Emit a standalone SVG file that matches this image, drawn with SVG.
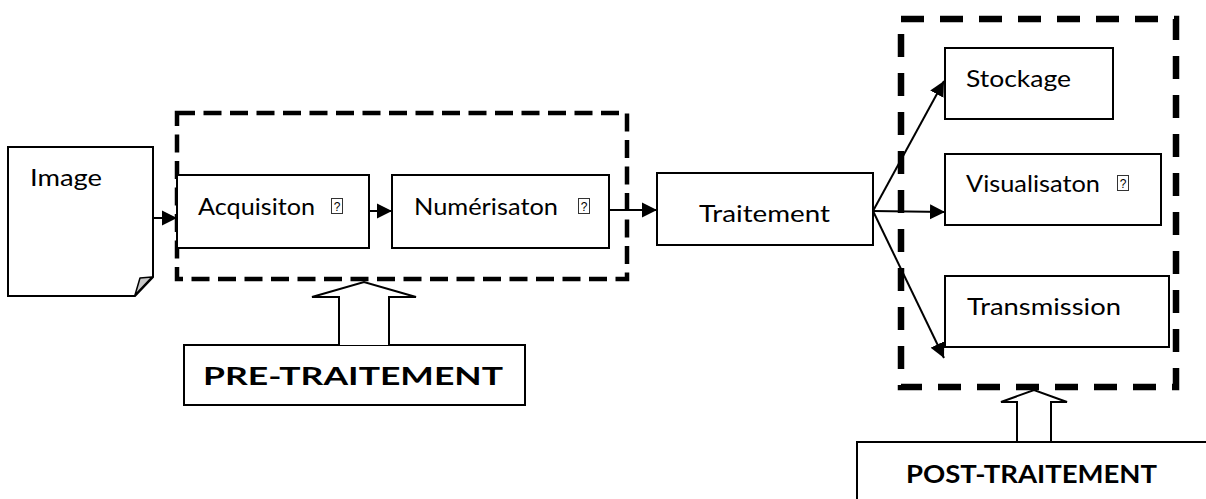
<svg xmlns="http://www.w3.org/2000/svg" width="1206" height="499" viewBox="0 0 1206 499">
<defs>
<style>
.box{fill:#fff;stroke:#000;stroke-width:2}
.t{font-family:Lato,"Open Sans","Liberation Sans",sans-serif;font-size:24px;fill:#000}
.b{font-family:Lato,"Open Sans","Liberation Sans",sans-serif;font-size:25px;font-weight:bold;fill:#000}
.gb{fill:#fff;stroke:#333;stroke-width:1}
.q{font-family:"Liberation Sans",sans-serif;font-size:12px;fill:#000;text-anchor:middle}
.ln{fill:none;stroke:#000;stroke-width:2}
.dash1{fill:none;stroke:#000;stroke-width:4.5;stroke-dasharray:18 8.5}
.dash2{fill:none;stroke:#000;stroke-width:6.5;stroke-dasharray:23 16}
.blk{fill:#fff;stroke:#000;stroke-width:2;stroke-linejoin:miter}
</style>
<marker id="ah" markerUnits="userSpaceOnUse" markerWidth="16" markerHeight="16" viewBox="0 0 16 16" refX="15" refY="8" orient="auto">
<path d="M0,0.5 L15,8 L0,15.5 Z" fill="#000"/>
</marker>
</defs>
<rect width="1206" height="499" fill="#fff"/>

<g id="pre-group">
<rect class="dash1" x="177" y="113" width="450" height="166"/>
</g>
<g id="post-group">
<rect class="dash2" x="901" y="19" width="275" height="368"/>
</g>

<g id="image">
<path class="box" d="M8,147 H153 V277 L135,296 H8 Z"/>
<path d="M140,278 L152,277 L135,295 Z" fill="#c8c8c8" stroke="#000" stroke-width="1.5" stroke-linejoin="round"/>
<text class="t" x="30" y="186" textLength="72" lengthAdjust="spacingAndGlyphs">Image</text>
</g>

<g id="acquisition">
<rect class="box" x="177" y="175" width="192" height="73"/>
<text class="t" x="198" y="215" textLength="117" lengthAdjust="spacingAndGlyphs">Acquisiton</text>
<rect class="gb" x="331.5" y="198.5" width="11" height="15"/>
<text class="q" x="337" y="211">?</text>
</g>

<g id="numerisation">
<rect class="box" x="392" y="175" width="217" height="73"/>
<text class="t" x="414" y="215" textLength="144" lengthAdjust="spacingAndGlyphs">Numérisaton</text>
<rect class="gb" x="578.5" y="198.5" width="11" height="15"/>
<text class="q" x="584" y="211">?</text>
</g>

<g id="traitement">
<rect class="box" x="657" y="173" width="216" height="72"/>
<text class="t" x="699" y="222" textLength="131" lengthAdjust="spacingAndGlyphs">Traitement</text>
</g>

<g id="stockage">
<rect class="box" x="945" y="48" width="168" height="71"/>
<text class="t" x="966" y="87" textLength="105" lengthAdjust="spacingAndGlyphs">Stockage</text>
</g>

<g id="visualisation">
<rect class="box" x="945" y="154" width="216" height="71"/>
<text class="t" x="966" y="192" textLength="134" lengthAdjust="spacingAndGlyphs">Visualisaton</text>
<rect class="gb" x="1117.5" y="175.5" width="11" height="15"/>
<text class="q" x="1123" y="188">?</text>
</g>

<g id="transmission">
<rect class="box" x="945" y="276" width="224" height="71"/>
<text class="t" x="967" y="315" textLength="154" lengthAdjust="spacingAndGlyphs">Transmission</text>
</g>

<g id="pre-traitement">
<rect class="box" x="184" y="345" width="341" height="60"/>
<text class="b" x="203" y="385" textLength="300" lengthAdjust="spacingAndGlyphs">PRE-TRAITEMENT</text>
</g>

<g id="post-traitement">
<rect class="box" x="857" y="442" width="360" height="70"/>
<text class="b" x="906" y="483" textLength="251" lengthAdjust="spacingAndGlyphs">POST-TRAITEMENT</text>
</g>

<g id="connectors">
<line class="ln" x1="153" y1="218" x2="177" y2="218" marker-end="url(#ah)"/>
<line class="ln" x1="369" y1="211" x2="392" y2="211" marker-end="url(#ah)"/>
<line class="ln" x1="609" y1="210" x2="657" y2="210" marker-end="url(#ah)"/>
<line class="ln" x1="873" y1="211" x2="944" y2="81" marker-end="url(#ah)"/>
<line class="ln" x1="873" y1="211" x2="945" y2="212" marker-end="url(#ah)"/>
<line class="ln" x1="873" y1="211" x2="944" y2="358" marker-end="url(#ah)"/>
<path class="blk" d="M339,345 V297 H312 L364,282 L416,297 H389 V345"/>
<path class="blk" d="M1017,441 V402 H1001 L1034,390 L1067,402 H1051 V441"/>
</g>
</svg>
